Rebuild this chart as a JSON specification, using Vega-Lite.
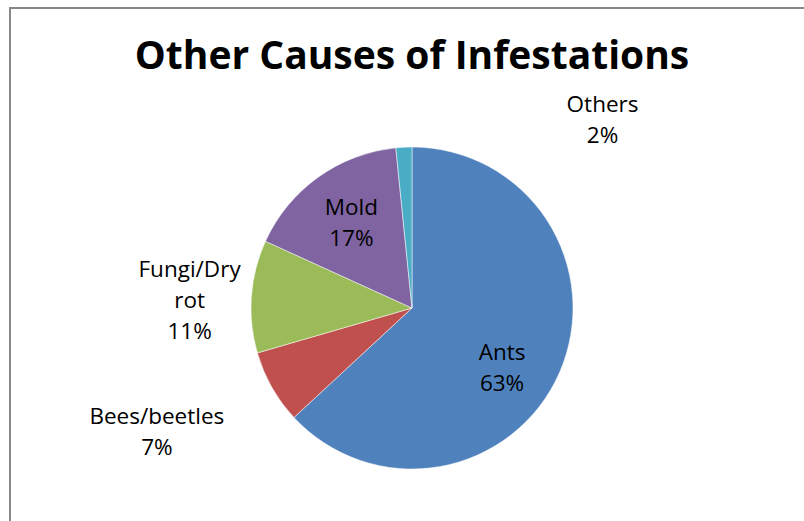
{
  "$schema": "https://vega.github.io/schema/vega-lite/v6.json",
  "width": 804,
  "height": 600,
  "autosize": {"type": "none"},
  "padding": {"left": 10, "top": 8, "right": 0, "bottom": 0},
  "background": "white",
  "view": {"stroke": "#888888", "strokeWidth": 2},
  "title": {"text": "Other Causes of Infestations", "font": "Open Sans", "fontSize": 39, "fontWeight": "bold", "color": "black", "offset": -94, "anchor": "middle"},
  "config": {"view": {"stroke": "#888888", "strokeWidth": 2}},
  "data": {"values": [
    {"cause": "Ants", "value": 63.1, "label": "Ants\n63%"},
    {"cause": "Bees/beetles", "value": 7.4, "label": "Bees/beetles\n7%"},
    {"cause": "Fungi/Dry rot", "value": 11.3, "label": "Fungi/Dry\nrot\n11%"},
    {"cause": "Mold", "value": 16.6, "label": "Mold\n17%"},
    {"cause": "Others", "value": 1.6, "label": "Others\n2%"}
  ]},
  "encoding": {
    "theta": {"field": "value", "type": "quantitative", "stack": true},
    "order": {"field": "cause", "type": "ordinal"}
  },
  "layer": [
    {
      "mark": {"type": "arc", "outerRadius": 161, "stroke": "white", "strokeWidth": 0.5},
      "encoding": {
        "color": {"field": "cause", "type": "nominal", "legend": null,
          "scale": {"domain": ["Ants", "Bees/beetles", "Fungi/Dry rot", "Mold", "Others"], "range": ["#4F81BD", "#C0504D", "#9BBB59", "#8064A2", "#4BACC6"]}}
      }
    },
    {
      "mark": {"type": "text", "radius": 107, "dx": -8, "dy": 2.5, "font": "Open Sans", "fontSize": 22.5, "lineBreak": "\n", "lineHeight": 31, "align": "center", "baseline": "middle", "fill": "black"},
      "encoding": {"detail": {"field": "cause"}, "text": {"condition": {"test": "datum.cause === 'Ants'", "field": "label"}, "value": ""}}
    },
    {
      "mark": {"type": "text", "radius": 104, "dy": -15.5, "font": "Open Sans", "fontSize": 22.5, "lineBreak": "\n", "lineHeight": 31, "align": "center", "baseline": "middle", "fill": "black"},
      "encoding": {"detail": {"field": "cause"}, "text": {"condition": {"test": "datum.cause === 'Mold'", "field": "label"}, "value": ""}}
    },
    {
      "mark": {"type": "text", "radius": 223, "dy": -22, "font": "Open Sans", "fontSize": 22.5, "lineBreak": "\n", "lineHeight": 31, "align": "center", "baseline": "middle", "fill": "black"},
      "encoding": {"detail": {"field": "cause"}, "text": {"condition": {"test": "datum.cause === 'Fungi/Dry rot'", "field": "label"}, "value": ""}}
    },
    {
      "mark": {"type": "text", "radius": 284, "dx": -8, "dy": -30.5, "font": "Open Sans", "fontSize": 22.5, "lineBreak": "\n", "lineHeight": 31, "align": "center", "baseline": "middle", "fill": "black"},
      "encoding": {"detail": {"field": "cause"}, "text": {"condition": {"test": "datum.cause === 'Bees/beetles'", "field": "label"}, "value": ""}}
    },
    {
      "mark": {"type": "text", "radius": 188, "dx": 200, "dy": -15.5, "font": "Open Sans", "fontSize": 22.5, "lineBreak": "\n", "lineHeight": 31, "align": "center", "baseline": "middle", "fill": "black"},
      "encoding": {"detail": {"field": "cause"}, "text": {"condition": {"test": "datum.cause === 'Others'", "field": "label"}, "value": ""}}
    }
  ]
}
